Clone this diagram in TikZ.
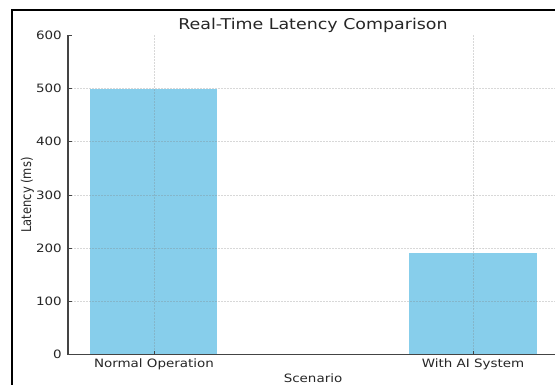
\documentclass[tikz,border=0pt]{standalone}
\usepackage{fontspec}
\usepackage{graphicx}
\setmainfont{DejaVu Sans}
\definecolor{skyb}{HTML}{87CEEB}
\definecolor{txt}{HTML}{262626}
\definecolor{spine}{HTML}{444444}
\newcommand\hstr[1]{\scalebox{1.17}[1]{#1}}
\begin{document}
\begin{tikzpicture}[x=1pt,y=-1pt,
  ticklab/.style={text=txt,font=\fontsize{11.5}{12}\selectfont,inner sep=0pt},
  gridline/.style={gray,opacity=0.3,dash pattern=on 2pt off 1pt,line width=0.6pt},
  barbox/.style={fill=skyb,draw=none},
  spineline/.style={spine,line width=1.2pt},
  tickmark/.style={spine,line width=0.8pt}]
\useasboundingbox (0,0) rectangle (555,385);
\fill[white] (0,0) rectangle (555,385);
% frame
\draw[black,line width=2pt] (12,385) -- (12,10) -- (555,10);
% title
\node[anchor=base,text=txt,font=\fontsize{14.9}{16}\selectfont,inner sep=0pt] (title) at (313,29.5) {\hstr{Real-Time Latency Comparison}};
% bars
\fill[barbox] (90,354.5) rectangle (217,88.7) coordinate (b1);
\fill[barbox] (409,354.5) rectangle (537,253.4) coordinate (b2);
% grid
\foreach \yy in {301.3,248.2,195,141.8,88.7}
  \draw[gridline] (68,\yy) -- (555,\yy);
\foreach \xx in {154,473}
  \draw[gridline] (\xx,35.5) -- (\xx,354.5);
% spines
\draw[spineline] (68,35.5) -- (68,354.5) -- (555,354.5);
% y ticks
\foreach \v/\yy in {0/354.5,100/301.3,200/248.2,300/195,400/141.8,500/88.7,600/35.5}{
  \draw[tickmark] (68,\yy) -- (71.5,\yy);
  \node[ticklab,anchor=east] (y\v) at (62,\yy) {\hstr{\v}};
}
% x ticks
\draw[tickmark] (154,354.5) -- (154,351);
\draw[tickmark] (473,354.5) -- (473,351);
\node[ticklab,anchor=base] (xl1) at (154,367) {\hstr{Normal Operation}};
\node[ticklab,anchor=base] (xl2) at (473,367) {\hstr{With AI System}};
% axis labels
\node[ticklab,anchor=base] (xlab) at (313,382) {\hstr{Scenario}};
\node[ticklab,rotate=90,font=\fontsize{11.5}{12}\selectfont] (ylab) at (27.5,195) {\scalebox{1}[1.17]{Latency (ms)}};
\end{tikzpicture}
\end{document}
